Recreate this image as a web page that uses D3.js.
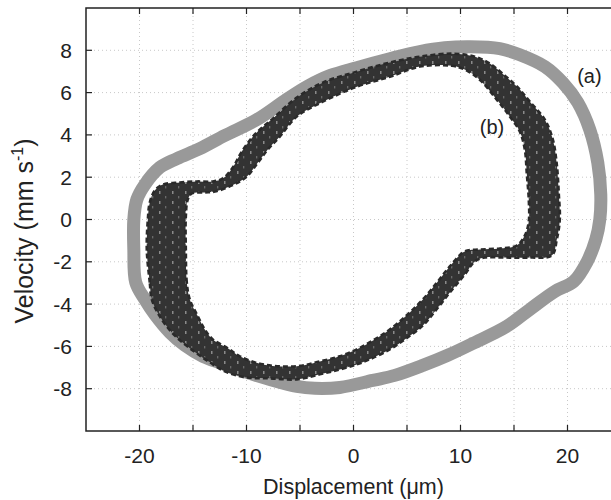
<!DOCTYPE html>
<html>
<head>
<meta charset="utf-8">
<script src="https://cdn.jsdelivr.net/npm/d3@7"></script>
<style>
  body { margin: 0; background: #fff; }
  svg { display: block; font-family: "Liberation Sans", Arial, sans-serif; }
</style>
</head>
<body>
<svg id="chart" width="611" height="500"></svg>
<script>
// loop (a): grey trace, [displacement um, velocity mm/s]
var loopA = [
    [-20.35, -2.98], [-20.53, -1.42], [-20.53, 0], [-20.25, 0.94], [-19.5, 1.65],
    [-18.1, 2.46], [-16.5, 2.88], [-14.36, 3.35], [-12.03, 3.97], [-9.04, 4.72],
    [-6.42, 5.62], [-4.36, 6.28], [-2.21, 6.8], [0.31, 7.18], [3.39, 7.6],
    [6.2, 7.94], [8.53, 8.12], [10.87, 8.17], [13.67, 8.08], [15.54, 7.79],
    [17.88, 7.23], [19.56, 6.47], [20.96, 5.53], [22.08, 4.25], [22.83, 2.69],
    [23.11, 1.18], [23.02, 0], [22.65, -0.94], [21.8, -2.03], [20.59, -2.93],
    [18.81, -3.4], [16.48, -4.25], [14.33, -5.05], [11.15, -5.86], [8.81, -6.42],
    [6.48, -6.9], [3.86, -7.37], [1.8, -7.61], [-1.28, -7.94], [-3.62, -7.98],
    [-5.3, -7.89], [-7.82, -7.56], [-9.97, -7.23], [-12.31, -6.8], [-14.08, -6.47],
    [-15.77, -5.95], [-17.17, -5.34], [-18.57, -4.49], [-19.5, -3.78]
];

// loop (b): outermost and innermost of the dashed cycles
var loopBOuter = [
    [-18.85, -3.78], [-19.04, -2.98], [-19.32, -1.42], [-19.22, 0], [-19.04, 0.8],
    [-18.57, 1.37], [-17.82, 1.65], [-16.23, 1.75], [-14.64, 1.8], [-13.15, 1.8],
    [-12.21, 1.94], [-11.28, 2.46], [-10.44, 3.21], [-9.22, 4.02], [-7.54, 4.77],
    [-5.3, 5.76], [-2.87, 6.47], [0.31, 6.99], [3.39, 7.42], [6.2, 7.7],
    [9.28, 7.84], [11.34, 7.7], [12.74, 7.37], [14.14, 6.8], [15.36, 6.24],
    [16.48, 5.57], [17.88, 4.72], [18.63, 3.78], [19.0, 2.6], [19.19, 1.18],
    [19.28, 0], [19.0, -0.94], [18.53, -1.7], [16.48, -1.8], [14.14, -1.8],
    [12.27, -1.8], [11.34, -1.98], [10.4, -2.6], [9.0, -3.45], [7.6, -4.35],
    [6.48, -5.01], [4.79, -5.67], [3.39, -6.14], [1.52, -6.61], [0.31, -6.85],
    [-1.28, -7.09], [-3.15, -7.32], [-5.3, -7.56], [-7.82, -7.51], [-10.16, -7.46],
    [-12.03, -7.18], [-13.43, -6.75], [-14.64, -6.33], [-15.77, -5.9], [-16.98, -5.34],
    [-18.1, -4.58]
];

var loopBInner = [
    [-15.3, -3.78], [-15.58, -2.98], [-15.67, -1.42], [-15.67, 0.14], [-15.49, 0.94],
    [-15.11, 1.23], [-13.9, 1.28], [-12.96, 1.32], [-11.37, 1.61], [-9.97, 2.03],
    [-8.94, 2.69], [-8.01, 3.31], [-6.89, 3.92], [-5.3, 4.87], [-2.87, 5.57],
    [0.31, 6.28], [3.39, 6.75], [6.2, 7.23], [9.19, 7.27], [10.4, 7.09],
    [11.8, 6.61], [13.39, 5.67], [14.61, 4.87], [15.54, 4.16], [16.01, 3.31],
    [16.2, 2.13], [16.38, 0.94], [16.38, -0.09], [16.01, -0.76], [15.26, -1.23],
    [13.67, -1.37], [11.8, -1.42], [10.4, -1.51], [9.0, -2.22], [7.88, -2.93],
    [6.48, -3.78], [4.98, -4.53], [3.39, -5.2], [1.99, -5.67], [0.31, -6.14],
    [-1.28, -6.47], [-3.15, -6.71], [-5.3, -6.94], [-8.48, -6.85], [-10.63, -6.47],
    [-11.75, -6.09], [-13.15, -5.67], [-13.9, -5.2], [-14.55, -4.58]
];

var xTicks = [-25, -20, -15, -10, -5, 0, 5, 10, 15, 20, 25];
var xLabels = [-20, -10, 0, 10, 20];
var yTicks = [-10, -8, -6, -4, -2, 0, 2, 4, 6, 8, 10];
var yLabels = [-8, -6, -4, -2, 0, 2, 4, 6, 8];

var labelA = { text: "(a)", x: 20.9, y: 6.45 };
var labelB = { text: "(b)", x: 11.8, y: 4.05 };

var svg = d3.select("#chart");

var x = d3.scaleLinear().domain([-25, 25]).range([86, 621]);
var y = d3.scaleLinear().domain([-10, 10]).range([431, 8]);

// speckled texture for the overlapping dashed cycles
var pat = svg.append("defs").append("pattern")
    .attr("id", "speck")
    .attr("patternUnits", "userSpaceOnUse")
    .attr("width", 13).attr("height", 10);
pat.append("rect").attr("width", 13).attr("height", 10).attr("fill", "#333");
pat.append("rect").attr("x", 3).attr("y", 1).attr("width", 1.5).attr("height", 3).attr("fill", "#8a8a8a");
pat.append("rect").attr("x", 9).attr("y", 6).attr("width", 1.3).attr("height", 2.4).attr("fill", "#6a6a6a");

// dotted grid
var grid = svg.append("g").attr("stroke", "#c8c8c8").attr("stroke-width", 1)
    .attr("stroke-dasharray", "1,3");
grid.selectAll(".gx").data(xTicks.slice(1, -1)).enter().append("line")
    .attr("x1", function(d) { return x(d); }).attr("x2", function(d) { return x(d); })
    .attr("y1", y(10)).attr("y2", y(-10));
grid.selectAll(".gy").data(yTicks.slice(1, -1)).enter().append("line")
    .attr("y1", function(d) { return y(d); }).attr("y2", function(d) { return y(d); })
    .attr("x1", x(-25)).attr("x2", x(25));

var line = d3.line()
    .x(function(d) { return x(d[0]); })
    .y(function(d) { return y(d[1]); })
    .curve(d3.curveCatmullRomClosed.alpha(0.5));

svg.append("path")
    .attr("d", line(loopA))
    .attr("fill", "none")
    .attr("stroke", "#999")
    .attr("stroke-width", 13)
    .attr("stroke-linejoin", "round");

// band swept by the (b) cycles
svg.append("path")
    .attr("d", line(loopBOuter) + line(loopBInner))
    .attr("fill", "url(#speck)")
    .attr("fill-rule", "evenodd");

[loopBOuter, loopBInner].forEach(function(loop) {
    svg.append("path")
        .attr("d", line(loop))
        .attr("fill", "none")
        .attr("stroke", "#2a2a2a")
        .attr("stroke-width", 2.6)
        .attr("stroke-dasharray", "5,3");
});

svg.selectAll(".lab").data([labelA, labelB]).enter().append("text")
    .attr("x", function(d) { return x(d.x); })
    .attr("y", function(d) { return y(d.y); })
    .attr("font-size", 20)
    .attr("fill", "#222")
    .text(function(d) { return d.text; });

// frame
svg.append("rect")
    .attr("x", x(-25)).attr("y", y(10))
    .attr("width", x(25) - x(-25)).attr("height", y(-10) - y(10))
    .attr("fill", "none").attr("stroke", "#222").attr("stroke-width", 1.5);

// inward ticks
var ticks = svg.append("g").attr("stroke", "#222").attr("stroke-width", 1.2);
xTicks.slice(1, -1).forEach(function(d) {
    ticks.append("line").attr("x1", x(d)).attr("x2", x(d)).attr("y1", y(-10)).attr("y2", y(-10) - 6);
    ticks.append("line").attr("x1", x(d)).attr("x2", x(d)).attr("y1", y(10)).attr("y2", y(10) + 6);
});
yTicks.slice(1, -1).forEach(function(d) {
    ticks.append("line").attr("y1", y(d)).attr("y2", y(d)).attr("x1", x(-25)).attr("x2", x(-25) + 6);
});

svg.selectAll(".xl").data(xLabels).enter().append("text")
    .attr("x", function(d) { return x(d); })
    .attr("y", 463)
    .attr("text-anchor", "middle")
    .attr("font-size", 21)
    .attr("fill", "#222")
    .text(function(d) { return d; });

svg.selectAll(".yl").data(yLabels).enter().append("text")
    .attr("x", 72)
    .attr("y", function(d) { return y(d); })
    .attr("dy", "0.36em")
    .attr("text-anchor", "end")
    .attr("font-size", 21)
    .attr("fill", "#222")
    .text(function(d) { return d; });

svg.append("text")
    .attr("x", x(0)).attr("y", 494)
    .attr("text-anchor", "middle")
    .attr("font-size", 21.5)
    .attr("fill", "#222")
    .text("Displacement (\u03bcm)");

var yt = svg.append("text")
    .attr("transform", "translate(33,231) rotate(-90)")
    .attr("text-anchor", "middle")
    .attr("font-size", 25)
    .attr("fill", "#222");
yt.append("tspan").text("Velocity (mm s");
yt.append("tspan").attr("dy", -10).attr("font-size", 16).text("-1");
yt.append("tspan").attr("dy", 10).text(")");
</script>
</body>
</html>
